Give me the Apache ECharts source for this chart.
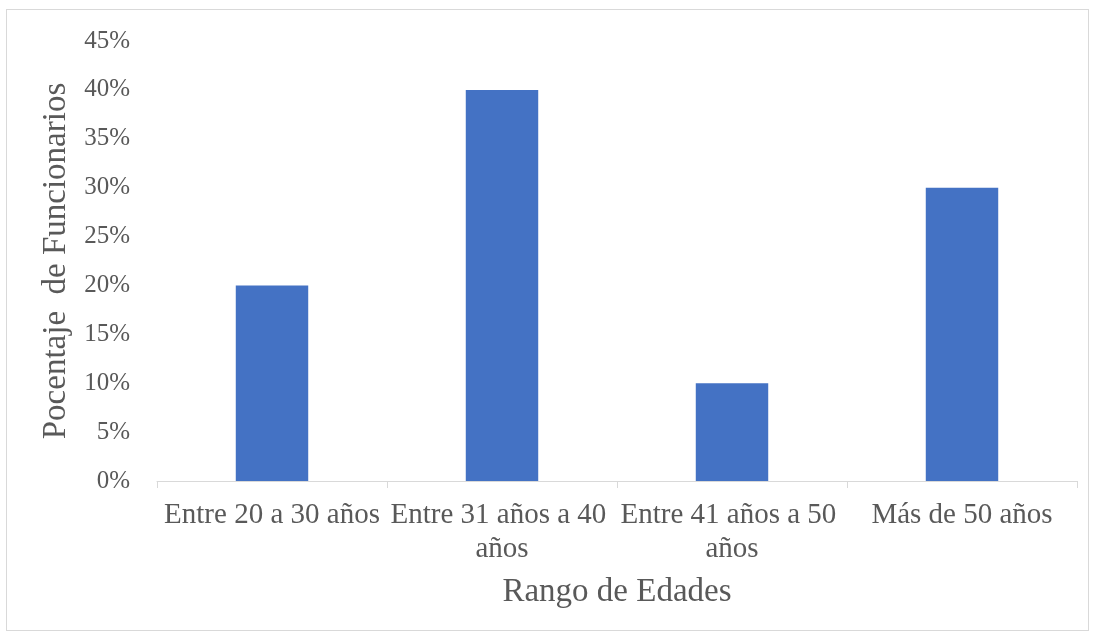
<!DOCTYPE html>
<html><head><meta charset="utf-8">
<script src="https://cdn.jsdelivr.net/npm/echarts@6/dist/echarts.min.js"></script>
<style>html,body{margin:0;padding:0;background:#fff}#c{width:1094px;height:634px;position:relative}
#frame{position:absolute;left:6px;top:9px;width:1083px;height:622px;border:1px solid #d9d9d9;box-sizing:border-box;pointer-events:none}</style>
</head><body><div id="c"></div><div id="frame"></div>
<script>
const categories = ["Entre 20 a 30 años", "Entre 31 años a 40 años", "Entre 41 años a 50 años", "Más de 50 años"];
const values = [0.20, 0.40, 0.10, 0.30];
const yTicks = [0, 0.05, 0.10, 0.15, 0.20, 0.25, 0.30, 0.35, 0.40, 0.45];
const xTitle = "Rango de Edades";
const yTitle = "Pocentaje  de Funcionarios";

const chart = echarts.init(document.getElementById('c'), null, {renderer: 'canvas'});
const font = "'Liberation Serif', 'Times New Roman', serif";
const txt = '#595959';
chart.setOption({
  animation: false,
  grid: {left: 157, right: 17, top: 41, bottom: 153},
  xAxis: {
    type: 'category', data: categories,
    axisLine: {lineStyle: {color: '#d9d9d9', width: 1}},
    axisTick: {show: true, length: 7, lineStyle: {color: '#d9d9d9'}},
    axisLabel: {color: txt, fontFamily: font, fontSize: 29, margin: 17, width: 250, overflow: 'break', lineHeight: 34, interval: 0},
    name: xTitle, nameLocation: 'middle', nameGap: 111,
    nameTextStyle: {color: txt, fontFamily: font, fontSize: 33, verticalAlign: 'middle'}
  },
  yAxis: {
    type: 'value', min: yTicks[0], max: yTicks[yTicks.length - 1], interval: 0.05,
    splitLine: {show: false},
    axisLine: {show: false}, axisTick: {show: false},
    axisLabel: {color: txt, fontFamily: font, fontSize: 25, margin: 27,
      formatter: v => Math.round(v * 100) + '%'},
    name: yTitle, nameLocation: 'middle', nameGap: 98,
    nameTextStyle: {color: txt, fontFamily: font, fontSize: 33, verticalAlign: 'middle'}
  },
  series: [{
    type: 'bar', data: values, barWidth: '31.5%',
    itemStyle: {color: '#4472c4'}
  }]
});
</script></body></html>
